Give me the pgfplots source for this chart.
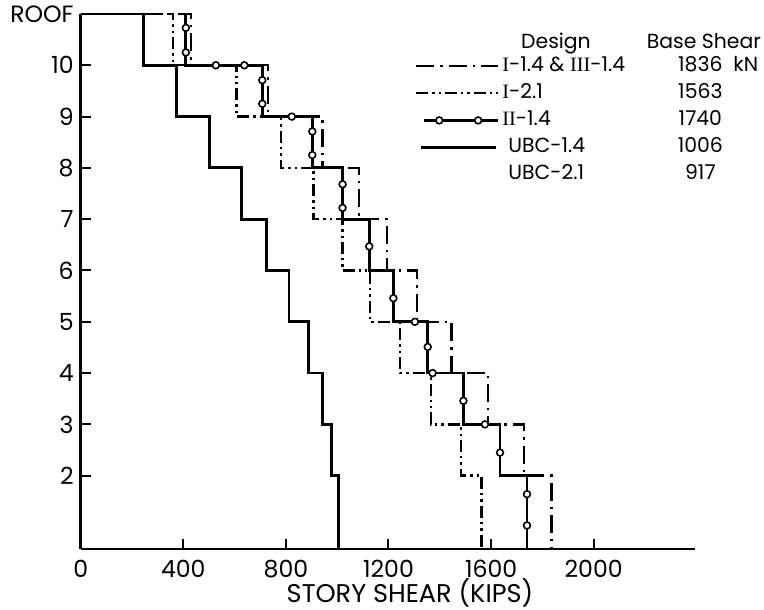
\documentclass[border=0pt]{standalone}
\usepackage{pgfplots}
\pgfplotsset{compat=1.18}
\usepackage{fontspec}
\setmainfont{Poppins}
\newfontfamily\serif{Liberation Serif}
\pgfplotsset{
  legline/.style={legend image code/.code={\draw[##1] (0pt,0pt) -- (41pt,0pt);}},
  leglineshort/.style={legend image code/.code={\draw[##1] (2.5pt,0pt) -- (40pt,0pt);}},
  legcirc/.style={legend image code/.code={\draw[##1] (4pt,0pt) -- (41pt,0pt);
    \draw[##1] plot[only marks, mark=*, mark size=1.7pt, mark options={fill=white, line width=0.8pt}] coordinates {(11.5pt,0pt) (31pt,0pt)};}},
  legnone/.style={legend image code/.code={\path[draw=none] (0pt,0pt) -- (41pt,0pt);}},
}
\begin{document}
\begin{tikzpicture}
\begin{axis}[
  x=0.12825pt, y=25.65pt,
  xmin=0, xmax=2395, ymin=0.57, ymax=11,
  axis x line*=bottom, axis y line*=left,
  axis line style={line width=1.2pt},
  every tick/.style={black, line width=1pt},
  major tick length=5pt,
  tick align=inside,
  xtick={0,400,...,2000},
  ytick={2,...,11}, yticklabels={2,3,4,5,6,7,8,9,10,ROOF},
  /pgf/number format/assume math mode=true,
  /pgf/number format/1000 sep={},
  ticklabel style={font=\fontsize{11.8}{13}\selectfont},
  yticklabel style={xshift=0pt},
  xticklabel style={yshift=-2pt},
  xlabel={STORY SHEAR (KIPS)},
  xlabel style={at={(axis cs:1284,-0.481)}, anchor=base, font=\fontsize{12.8}{14}\selectfont, inner sep=0pt},
  clip=false,
  legend style={at={(axis cs:1303.3,10.181)}, anchor=north west, draw=none, fill=none,
    inner sep=0pt, outer sep=0pt, row sep=3.6pt, column sep=1.5pt,
    font=\fontsize{10.2}{12}\selectfont,
    nodes={inner sep=0pt, outer sep=0pt, text height=7.5pt, text depth=2.5pt}},
  legend cell align=left,
]
% UBC-1.4 (solid)
\addplot[black, line width=1.4pt, forget plot] coordinates {
 (0,11) (244,11) (244,10) (372,10) (372,9) (501,9) (501,8) (628,8) (628,7)
 (725,7) (725,6) (812,6) (812,5) (887,5) (887,4) (943,4) (943,3) (979,3) (979,2)
 (1006,2) (1006,0.57)};
% I-2.1 (dash dot dot)
\addplot[black, line width=1.2pt, dash pattern=on 6pt off 2pt on 1.2pt off 2pt on 1.2pt off 2pt, forget plot] coordinates {
 (0,11) (359,11) (359,10) (608,10) (608,9) (780,9) (780,8) (908,8) (908,7)
 (1020,7) (1020,6) (1128,6) (1128,5) (1245,5) (1245,4) (1366,4) (1366,3) (1483,3) (1483,2)
 (1563,2) (1563,0.57)};
% I-1.4 & III-1.4 (dash dot)
\addplot[black, line width=1.2pt, dash pattern=on 9pt off 3pt on 1.2pt off 3pt, forget plot] coordinates {
 (0,11) (430,11) (430,10) (731,10) (731,9) (942,9) (942,8) (1085,8) (1085,7)
 (1195,7) (1195,6) (1310,6) (1310,5) (1446,5) (1446,4) (1589,4) (1589,3) (1728,3) (1728,2)
 (1836,2) (1836,0.57)};
% II-1.4 (solid with circles)
\addplot[black, line width=1.4pt, forget plot] coordinates {
 (388,11) (410,11) (410,10) (708,10) (708,9) (903,9) (903,8) (1021,8) (1021,7)
 (1125,7) (1125,6) (1219,6) (1219,5) (1353,5) (1353,4) (1492,4) (1492,3) (1635,3) (1635,2)
 (1740,2) (1740,0.57)};
\addplot[only marks, mark=*, mark size=1.7pt, mark options={fill=white, draw=black, line width=0.8pt}, forget plot] coordinates {
 (410,10.73) (410,10.25) (527,10) (638,10) (708,9.71) (708,9.25) (823,9)
 (903,8.71) (903,8.25) (1021,7.68) (1021,7.22) (1125,6.47) (1219,5.46) (1303,5)
 (1353,4.51) (1372,4) (1492,3.46) (1576,3) (1635,2.45) (1740,1.64) (1740,1.03)};
% legend
\addlegendimage{black, line width=1.2pt, dash pattern=on 9pt off 3pt on 1.2pt off 3pt, legline}
\addlegendentry{\makebox[99pt][l]{{\serif I}-1.4 \& {\serif III}-1.4}\makebox[0pt][c]{1836}\rlap{\hspace{16.5pt}kN}}
\addlegendimage{black, line width=1.2pt, dash pattern=on 6pt off 2pt on 1.2pt off 2pt on 1.2pt off 2pt, legline}
\addlegendentry{\makebox[99pt][l]{{\serif I}-2.1}\makebox[0pt][c]{1563}}
\addlegendimage{black, line width=1.2pt, legcirc}
\addlegendentry{\makebox[99pt][l]{{\serif II}-1.4}\makebox[0pt][c]{1740}}
\addlegendimage{black, line width=1.3pt, leglineshort}
\addlegendentry{\makebox[99pt][l]{\hspace*{3pt}UBC-1.4}\makebox[0pt][c]{1006}}
\addlegendimage{draw=none, legnone}
\addlegendentry{\makebox[99pt][l]{\hspace*{3pt}UBC-2.1}\makebox[0pt][c]{917}}
\node[anchor=base, font=\fontsize{10.2}{12}\selectfont] at (axis cs:1853,10.318) {Design};
\node[anchor=base, font=\fontsize{10.2}{12}\selectfont] at (axis cs:2430,10.318) {Base Shear};
\coordinate (bl) at (axis cs:-314.6,-0.618);
\coordinate (tr) at (axis cs:2664,11.273);
\end{axis}
\pgfresetboundingbox
\useasboundingbox (bl) rectangle (tr);
\end{tikzpicture}
\end{document}
